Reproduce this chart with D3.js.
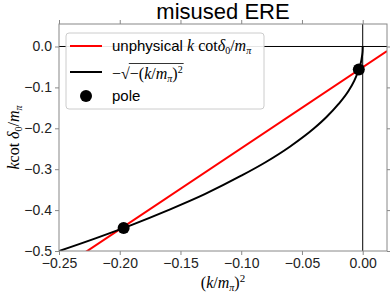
<!DOCTYPE html>
<html>
<head>
<meta charset="utf-8">
<script src="https://cdn.jsdelivr.net/npm/d3@7.9.0/dist/d3.min.js"></script>
<style>
  body { margin: 0; background: #fff; }
  svg { display: block; }
  .tick text { font-family: "Liberation Sans", Arial, sans-serif; }
</style>
</head>
<body>
<svg id="chart" width="390" height="296"></svg>
<script>
// values
const xLimits = [-0.25, 0.02];
const yLimits = [-0.5, 0.055];
const xTicks = [-0.25, -0.20, -0.15, -0.10, -0.05, 0.00];
const yTicks = [-0.5, -0.4, -0.3, -0.2, -0.1, 0.0];

// red straight line (two end points)
const redX = [-0.25, 0.02];
const redY = [-0.546, -0.011];

// black curve
const curveX = [-0.25, -0.22, -0.19, -0.16, -0.13, -0.10, -0.08, -0.06, -0.04, -0.03,
                -0.02, -0.012, -0.007, -0.004, -0.002, -0.001, -0.0004, -0.0001, 0];
const curveY = [-0.5, -0.469, -0.436, -0.4, -0.361, -0.316, -0.283, -0.245, -0.2, -0.173,
                -0.141, -0.110, -0.084, -0.063, -0.045, -0.032, -0.020, -0.010, 0];

// poles
const poleX = [-0.1968, -0.0032];
const poleY = [-0.4436, -0.0563];

const svg = d3.select("#chart");
const margin = { top: 24, right: 3, bottom: 45, left: 59 };
const width = 390 - margin.left - margin.right;
const height = 296 - margin.top - margin.bottom;

const g = svg.append("g").attr("transform", `translate(${margin.left},${margin.top})`);

const x = d3.scaleLinear().domain(xLimits).range([0, width]);
const y = d3.scaleLinear().domain(yLimits).range([height, 0]);

const minus = s => s.replace("-", "\u2212");
const gray = "#888";
const sans = "Liberation Sans, Arial, sans-serif";
const serif = "Liberation Serif, 'DejaVu Serif', serif";

// clip
svg.append("defs").append("clipPath").attr("id", "clip")
  .append("rect").attr("width", width).attr("height", height);

const plot = g.append("g").attr("clip-path", "url(#clip)");

// zero lines
plot.append("line").attr("x1", 0).attr("x2", width).attr("y1", y(0)).attr("y2", y(0))
  .attr("stroke", "#000").attr("stroke-width", 1);
plot.append("line").attr("x1", x(0)).attr("x2", x(0)).attr("y1", 0).attr("y2", height)
  .attr("stroke", "#000").attr("stroke-width", 1);

const line = d3.line().x(d => x(d[0])).y(d => y(d[1]));

plot.append("path")
  .datum(redX.map((v, i) => [v, redY[i]]))
  .attr("d", line)
  .attr("fill", "none").attr("stroke", "#ff0000").attr("stroke-width", 2);

plot.append("path")
  .datum(curveX.map((v, i) => [v, curveY[i]]))
  .attr("d", line.curve(d3.curveMonotoneX))
  .attr("fill", "none").attr("stroke", "#000").attr("stroke-width", 2);

plot.selectAll(".pole")
  .data(poleX.map((v, i) => [v, poleY[i]]))
  .enter().append("circle")
  .attr("class", "pole")
  .attr("cx", d => x(d[0])).attr("cy", d => y(d[1]))
  .attr("r", 6).attr("fill", "#000");

// axes
function styleAxis(sel, noText) {
  sel.select(".domain").remove();
  sel.selectAll(".tick line").attr("stroke", gray);
  sel.selectAll(".tick text").attr("fill", "#222").style("font-size", "14px");
  if (noText) sel.selectAll(".tick text").remove();
}

g.append("g").attr("transform", `translate(0,${height})`)
  .call(d3.axisBottom(x).tickValues(xTicks).tickSize(4).tickPadding(3).tickFormat(d => minus(d3.format(".2f")(d))))
  .call(styleAxis);
g.append("g")
  .call(d3.axisTop(x).tickValues(xTicks).tickSize(4))
  .call(s => styleAxis(s, true));
g.append("g")
  .call(d3.axisLeft(y).tickValues(yTicks).tickSize(4).tickPadding(3).tickFormat(d => minus(d3.format(".1f")(d))))
  .call(styleAxis);
g.append("g").attr("transform", `translate(${width},0)`)
  .call(d3.axisRight(y).tickValues(yTicks).tickSize(4))
  .call(s => styleAxis(s, true));

// frame
g.append("rect").attr("width", width).attr("height", height)
  .attr("fill", "none").attr("stroke", gray).attr("stroke-width", 1);

// title
svg.append("text")
  .attr("x", margin.left + width / 2).attr("y", 19)
  .attr("text-anchor", "middle")
  .style("font-family", sans)
  .style("font-size", "22px")
  .text("misused ERE");

// axis labels
const xl = svg.append("text")
  .attr("x", margin.left + width / 2).attr("y", 288)
  .attr("text-anchor", "middle")
  .style("font-family", serif).style("font-size", "16px").style("font-style", "italic");
xl.append("tspan").style("font-style", "normal").text("(");
xl.append("tspan").text("k");
xl.append("tspan").style("font-style", "normal").text("/");
xl.append("tspan").text("m");
xl.append("tspan").attr("dy", 3).style("font-size", "10px").text("π");
xl.append("tspan").attr("dy", -3).style("font-style", "normal").text(")");
xl.append("tspan").attr("dy", -6).style("font-style", "normal").style("font-size", "11px").text("2");

const yl = svg.append("text")
  .attr("transform", `translate(19,${margin.top + height / 2}) rotate(-90)`)
  .attr("text-anchor", "middle")
  .style("font-family", serif).style("font-size", "16px").style("font-style", "italic");
yl.append("tspan").text("k");
yl.append("tspan").style("font-style", "normal").text("cot ");
yl.append("tspan").text("δ");
yl.append("tspan").attr("dy", 3).style("font-style", "normal").style("font-size", "10px").text("0");
yl.append("tspan").attr("dy", -3).style("font-style", "normal").text("/");
yl.append("tspan").text("m");
yl.append("tspan").attr("dy", 3).style("font-size", "10px").text("π");

// legend
const lg = svg.append("g").attr("transform", "translate(66,33)");
lg.append("rect").attr("width", 198).attr("height", 76).attr("rx", 3)
  .attr("fill", "#fff").attr("fill-opacity", 0.9).attr("stroke", "#ccc");

lg.append("line").attr("x1", 4).attr("x2", 36).attr("y1", 13).attr("y2", 13)
  .attr("stroke", "#ff0000").attr("stroke-width", 2);
const t1 = lg.append("text").attr("x", 46).attr("y", 18)
  .style("font-family", sans).style("font-size", "15px");
t1.append("tspan").text("unphysical ");
t1.append("tspan").style("font-family", serif).style("font-style", "italic").style("font-size", "16px").text("k");
t1.append("tspan").style("font-family", serif).style("font-size", "16px").text(" cot");
t1.append("tspan").style("font-family", serif).style("font-style", "italic").style("font-size", "16px").text("δ");
t1.append("tspan").attr("dy", 3).style("font-family", serif).style("font-size", "10px").text("0");
t1.append("tspan").attr("dy", -3).style("font-family", serif).style("font-size", "16px").text("/");
t1.append("tspan").style("font-family", serif).style("font-style", "italic").style("font-size", "16px").text("m");
t1.append("tspan").attr("dy", 3).style("font-family", serif).style("font-style", "italic").style("font-size", "10px").text("π");

lg.append("line").attr("x1", 4).attr("x2", 36).attr("y1", 39).attr("y2", 39)
  .attr("stroke", "#000").attr("stroke-width", 2);
// -sqrt(-(k/m_pi)^2): sign, radical sign, radicand with a bar above it
const t2a = lg.append("text").attr("x", 46).attr("y", 46)
  .style("font-family", serif).style("font-size", "16px").text("−√");
const radX = 46 + t2a.node().getComputedTextLength();
const t2 = lg.append("text").attr("x", radX).attr("y", 46)
  .style("font-family", serif).style("font-size", "16px");
t2.append("tspan").text("−(");
t2.append("tspan").style("font-style", "italic").text("k");
t2.append("tspan").text("/");
t2.append("tspan").style("font-style", "italic").text("m");
t2.append("tspan").attr("dy", 3).style("font-style", "italic").style("font-size", "10px").text("π");
t2.append("tspan").attr("dy", -3).text(")");
t2.append("tspan").attr("dy", -6).style("font-size", "10px").text("2");
const radW = t2.node().getComputedTextLength();
lg.append("line").attr("x1", radX - 1).attr("x2", radX + radW + 1)
  .attr("y1", 30.5).attr("y2", 30.5).attr("stroke", "#000").attr("stroke-width", 0.8);

lg.append("circle").attr("cx", 20).attr("cy", 63).attr("r", 6).attr("fill", "#000");
lg.append("text").attr("x", 46).attr("y", 68)
  .style("font-family", sans).style("font-size", "15px")
  .text("pole");
</script>
</body>
</html>
